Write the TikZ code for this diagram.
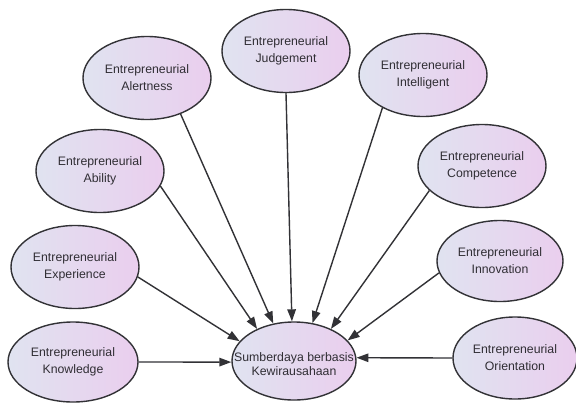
\documentclass[tikz,border=0pt]{standalone}
\usepackage{fontspec}
\setmainfont{Liberation Sans}
\usetikzlibrary{arrows.meta,shapes.geometric}
\definecolor{rim}{RGB}{50,50,54}
\definecolor{ink}{RGB}{48,46,52}
\definecolor{fillL}{RGB}{224,227,240}
\definecolor{fillR}{RGB}{234,206,238}
\tikzset{
  factor/.style={ellipse, draw=rim, line width=1.4pt, left color=fillL, right color=fillR,
    minimum width=128pt, minimum height=83pt, inner sep=0pt, align=center,
    text=ink, font=\fontsize{12.3}{17}\selectfont},
  hub/.style={factor, minimum width=124pt, minimum height=78pt},
  hubtext/.style={align=center, text=ink, font=\fontsize{12.3}{14.4}\selectfont, inner sep=0pt},
  link/.style={draw=rim, line width=1.4pt, -{Triangle[length=12pt,width=8.5pt]}}
}
\begin{document}
\begin{tikzpicture}[x=1pt,y=-1pt]
\useasboundingbox[fill=white] (0,0) rectangle (576,402);
% outer factors
\node[factor] (alert)   at (147,78)  {Entrepreneurial\\Alertness};
\node[factor] (judge)   at (286,51)  {Entrepreneurial\\Judgement};
\node[factor] (intel)   at (423,75)  {Entrepreneurial\\Intelligent};
\node[factor] (compet)  at (482,166) {Entrepreneurial\\Competence};
\node[factor] (ability) at (100,171) {Entrepreneurial\\Ability};
\node[factor] (exper)   at (75,267)  {Entrepreneurial\\Experience};
\node[factor, minimum width=130pt, minimum height=80pt] (know) at (73,362) {Entrepreneurial\\Knowledge};
\node[factor, minimum width=126pt, minimum height=81pt] (innov) at (500,261) {Entrepreneurial\\Innovation};
\node[factor, minimum width=124pt, minimum height=82pt] (orient) at (515,358) {Entrepreneurial\\Orientation};
% central construct
\node[hub] (hub) at (294,361) {};
\node[hubtext] (hubtxt) at (294,364) {Sumberdaya berbasis\\Kewirausahaan};
% influences
\draw[link] (know.0)      -- (hub.181);
\draw[link] (exper.351)   -- (hub.160);
\draw[link] (ability.346) -- (hub.139);
\draw[link] (alert.313)   -- (hub.119);
\draw[link] (judge.270)   -- (hub.93);
\draw[link] (intel.219)   -- (hub.64);
\draw[link] (compet.205)  -- (hub.41);
\draw[link] (innov.191)   -- (hub.21);
\draw[link] (orient.180)  -- (hub.3);
\end{tikzpicture}
\end{document}
